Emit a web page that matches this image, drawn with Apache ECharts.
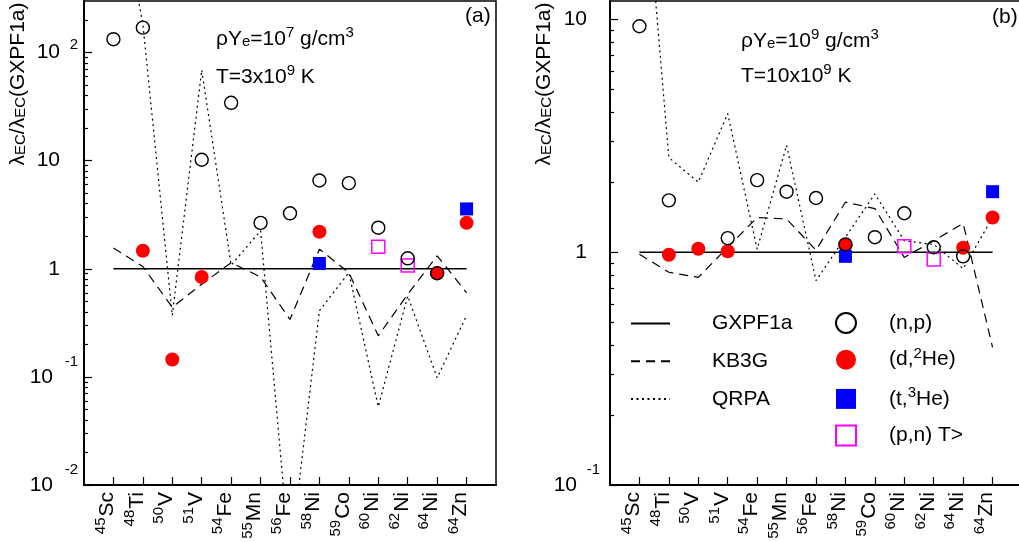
<!DOCTYPE html>
<html><head><meta charset="utf-8">
<script src="https://cdn.jsdelivr.net/npm/echarts@6/dist/echarts.min.js"></script>
<style>html,body{margin:0;padding:0;background:#fff}#c{width:1019px;height:542px}</style>
</head><body><div id="c"></div>
<script>
// ---- data ----
const massNumbers = ['45','48','50','51','54','55','56','58','59','60','62','64','64'];
const elements    = ['Sc','Ti','V','V','Fe','Mn','Fe','Ni','Co','Ni','Ni','Ni','Zn'];
const yTicksA = [0.01, 0.1, 1, 10, 100];
const yTicksB = [0.1, 1, 10];

// panel (a): rho Ye = 1e7, T = 3e9
const gxpf1aA = [1,1,1,1,1,1,1,1,1,1,1,1,1];
const kb3gA   = [1.56, 1.05, 0.44, 0.72, 1.14, 0.84, 0.34, 1.52, 0.92, 0.24, 0.58, 1.32, 0.60];
const qrpaA   = [5000, 184, 0.37, 69, 1.08, 2.25, 0.002, 0.41, 0.92, 0.053, 0.56, 0.098, 0.37];
const npA     = [133, 170, null, 10.2, 34.3, 2.66, 3.26, 6.56, 6.2, 2.40, 1.25, 0.91, null];
const d2HeA   = [null, 1.47, 0.145, 0.84, null, null, null, 2.2, null, null, null, 0.91, 2.66];
const t3HeA   = [null, null, null, null, null, null, null, 1.12, null, null, null, null, 3.58];
const pnA     = [null, null, null, null, null, null, null, null, null, 1.6, 1.07, null, null];

// panel (b): rho Ye = 1e9, T = 10e9
const gxpf1aB = [1,1,1,1,1,1,1,1,1,1,1,1,1];
const kb3gB   = [0.98, 0.82, 0.78, 1.05, 1.41, 1.39, 1.02, 1.64, 1.54, 0.95, 1.12, 1.33, 0.39];
const qrpaB   = [80, 2.55, 2.0, 3.94, 1.03, 2.88, 0.755, 1.16, 1.78, 1.12, 1.08, 0.85, 1.41];
const npB     = [9.35, 1.67, null, 1.15, 2.04, 1.82, 1.71, 1.08, 1.16, 1.47, 1.05, 0.96, null];
const d2HeB   = [null, 0.975, 1.035, 1.01, null, null, null, 1.07, null, null, null, 1.045, 1.41];
const t3HeB   = [null, null, null, null, null, null, null, 0.96, null, null, null, null, 1.82];
const pnB     = [null, null, null, null, null, null, null, null, null, 1.06, 0.93, null, null];

// ---- helpers ----
const FONT = 'Liberation Sans, Arial, sans-serif';
const idx = massNumbers.map((_, i) => i);
const pairs = arr => arr.map((v, i) => v == null ? null : [i, v]).filter(p => p);
const expOf = v => Math.round(Math.log10(v));
function minorTicks(lo, hi) {
  const out = [];
  for (let e = Math.floor(Math.log10(lo)); e <= Math.ceil(Math.log10(hi)); e++) {
    for (let m = 2; m <= 9; m++) {
      const v = m * Math.pow(10, e);
      if (v > lo && v < hi) out.push(v);
    }
  }
  return out;
}

function xAxis(g) {
  return {
    type: 'value', gridIndex: g, min: -1, max: 13,
    splitLine: { show: false },
    axisLine: { onZero: false, lineStyle: { color: '#000', width: 2 } },
    axisTick: { customValues: idx, inside: true, length: 8, lineStyle: { color: '#000', width: 1.2 } },
    axisLabel: {
      customValues: idx, rotate: 90, margin: 7, color: '#000',
      padding: [0, 0, 12, 0],
      formatter: v => { const i = Math.round(v); return '{m|' + massNumbers[i] + '}{e|' + elements[i] + '}'; },
      rich: {
        m: { fontFamily: FONT, fontSize: 15, lineHeight: 2, color: '#000', verticalAlign: 'middle', padding: [0, 1, 14, 0] },
        e: { fontFamily: FONT, fontSize: 21, lineHeight: 16, color: '#000', verticalAlign: 'middle' }
      }
    }
  };
}
const yBase = { type: 'log', logBase: 10, splitLine: { show: false } };
// major ticks + mantissa labels ("1", "10")
function yAxisMajor(g, lo, hi, ticks, margin, negPad) {
  return Object.assign({}, yBase, {
    gridIndex: g, min: lo, max: hi, position: 'left',
    axisLine: { show: true, onZero: false, lineStyle: { color: '#000', width: 2 } },
    axisTick: { customValues: ticks, inside: true, length: 8, lineStyle: { color: '#000', width: 1.2 } },
    axisLabel: {
      customValues: ticks, margin: margin, color: '#000', fontFamily: FONT, fontSize: 21,
      formatter: v => { const e = expOf(v); return e === 0 ? '1' : (e < 0 ? '{c|10}' : '10'); },
      rich: { c: { fontFamily: FONT, fontSize: 21, color: '#000', padding: [0, negPad, 0, 0] } }
    }
  });
}
// exponent labels ("2", "-1", "-2") drawn as superscripts
function yAxisExp(g, lo, hi, ticks, margin) {
  return Object.assign({}, yBase, {
    gridIndex: g, min: lo, max: hi, position: 'left',
    axisLine: { show: false, onZero: false },
    axisTick: { show: false },
    axisLabel: {
      customValues: ticks.filter(v => expOf(v) > 1 || expOf(v) < 0), margin: margin, color: '#000',
      formatter: v => { const e = expOf(v); return e > 1 ? '{p|' + e + '}' : '{q|' + e + '}'; },
      rich: {
        p: { fontFamily: FONT, fontSize: 15, color: '#000', padding: [0, 0, 16, 0] },
        q: { fontFamily: FONT, fontSize: 15, color: '#000', padding: [0, 0, 30, 0] }
      }
    }
  });
}
function yAxisMinor(g, lo, hi) {
  return Object.assign({}, yBase, {
    gridIndex: g, min: lo, max: hi, position: 'left',
    axisLine: { show: false, onZero: false },
    axisLabel: { show: false },
    axisTick: { customValues: minorTicks(lo, hi), inside: true, length: 4, lineStyle: { color: '#000', width: 1.2 } }
  });
}

const DASH = [9, 6], DOT = [2, 3.5];
function panelSeries(g, solid, kb, qr, np, d2, t3, pn) {
  const common = { xAxisIndex: g, yAxisIndex: g * 3, silent: true, emphasis: { disabled: true } };
  const noMark = { color: 'rgba(0,0,0,0)', borderColor: 'rgba(0,0,0,0)', borderWidth: 0 };
  return [
    Object.assign({ type: 'line', name: 'GXPF1a', data: pairs(solid), symbol: 'none', z: 2,
      lineStyle: { color: '#000', width: 1.5, type: 'solid' }, itemStyle: noMark }, common),
    Object.assign({ type: 'line', name: 'KB3G', data: pairs(kb), symbol: 'none', z: 2,
      lineStyle: { color: '#000', width: 1.2, type: DASH }, itemStyle: noMark }, common),
    Object.assign({ type: 'line', name: 'QRPA', data: pairs(qr), symbol: 'none', z: 2,
      lineStyle: { color: '#000', width: 1.2, type: DOT }, itemStyle: noMark }, common),
    Object.assign({ type: 'scatter', name: '(d,2He)', data: pairs(d2), symbol: 'circle', symbolSize: 14, z: 3,
      itemStyle: { color: '#ff0000', opacity: 1 } }, common),
    Object.assign({ type: 'scatter', name: '(t,3He)', data: pairs(t3), symbol: 'rect', symbolSize: 13, z: 3,
      itemStyle: { color: '#0000ff', opacity: 1 } }, common),
    Object.assign({ type: 'scatter', name: '(p,n) T>', data: pairs(pn), symbol: 'rect', symbolSize: 13, z: 4,
      itemStyle: { color: 'rgba(255,255,255,0)', borderColor: '#ff00ff', borderWidth: 1.5, opacity: 1 } }, common),
    Object.assign({ type: 'scatter', name: '(n,p)', data: pairs(np), symbol: 'circle', symbolSize: 13, z: 5,
      itemStyle: { color: 'rgba(255,255,255,0)', borderColor: '#000', borderWidth: 1.4, opacity: 1 } }, common)
  ];
}

const richText = {
  n: { fontFamily: FONT, fontSize: 21, lineHeight: 22, fill: '#000', verticalAlign: 'middle' },
  sup: { fontFamily: FONT, fontSize: 15, lineHeight: 6, fill: '#000', verticalAlign: 'middle', padding: [0, 0, 12, 0] },
  sub: { fontFamily: FONT, fontSize: 15, lineHeight: 6, fill: '#000', verticalAlign: 'middle', padding: [6, 0, 0, 0] }
};
function label(x, y, text, rot) {
  return { type: 'text', x: x, y: y, rotation: rot || 0, silent: true,
    style: { text: text, align: rot ? 'center' : 'left', verticalAlign: 'middle', fill: '#000',
      font: '21px ' + FONT, rich: richText } };
}
const yTitle = '{n|λ}{sub|EC}{n|/λ}{sub|EC}{n|(GXPF1a)}';

const legendRich = {
  t: { fontFamily: FONT, fontSize: 21, lineHeight: 20, color: '#000', verticalAlign: 'middle' },
  s: { fontFamily: FONT, fontSize: 15, lineHeight: 6, color: '#000', verticalAlign: 'middle', padding: [0, 0, 12, 0] }
};
const legendNames = { '(n,p)': '{t|(n,p)}', '(d,2He)': '{t|(d,}{s|2}{t|He)}', '(t,3He)': '{t|(t,}{s|3}{t|He)}', '(p,n) T>': '{t|(p,n) T>}' };

const option = {
  animation: false,
  backgroundColor: '#fff',
  grid: [
    { left: 84, top: 1, width: 412, height: 484, show: true, borderColor: '#000', borderWidth: 1.5, backgroundColor: 'transparent', containLabel: false, outerBoundsMode: 'none' },
    { left: 610, top: 1, width: 412, height: 484, show: true, borderColor: '#000', borderWidth: 1.5, backgroundColor: 'transparent', containLabel: false, outerBoundsMode: 'none' }
  ],
  xAxis: [xAxis(0), xAxis(1)],
  yAxis: [
    yAxisMajor(0, 0.01, 300, yTicksA, 24, 7), yAxisExp(0, 0.01, 300, yTicksA, 6), yAxisMinor(0, 0.01, 300),
    yAxisMajor(1, 0.1, 12, yTicksB, 23, 10), yAxisExp(1, 0.1, 12, yTicksB, 10), yAxisMinor(1, 0.1, 12)
  ],
  legend: [
    { data: ['GXPF1a', 'KB3G', 'QRPA'], orient: 'vertical', left: 630, top: 313, padding: 0,
      itemWidth: 39, itemHeight: 20, itemGap: 16.7, selectedMode: false,
      itemStyle: { color: 'rgba(0,0,0,0)', borderColor: 'rgba(0,0,0,0)', borderWidth: 0, opacity: 0 },
      textStyle: { fontFamily: FONT, fontSize: 21, color: '#000', lineHeight: 20, padding: [0, 0, 0, 37] } },
    { data: ['(n,p)', '(d,2He)', '(t,3He)', '(p,n) T>'], orient: 'vertical', left: 835, top: 312, padding: 0,
      itemWidth: 20, itemHeight: 20, itemGap: 12.2, selectedMode: false,
      formatter: n => legendNames[n],
      textStyle: { fontFamily: FONT, fontSize: 21, color: '#000', lineHeight: 20, padding: [0, 0, 0, 28], rich: legendRich } }
  ],
  graphic: [
    label(216, 39, '{n|ρY}{sub|e}{n|=10}{sup|7}{n| g/cm}{sup|3}'),
    label(216, 77, '{n|T=3x10}{sup|9}{n| K}'),
    label(465, 16, '{n|(a)}'),
    label(741, 41, '{n|ρY}{sub|e}{n|=10}{sup|9}{n| g/cm}{sup|3}'),
    label(741, 76, '{n|T=10x10}{sup|9}{n| K}'),
    label(992, 17, '{n|(b)}'),
    label(18, 84, yTitle, Math.PI / 2),
    label(544, 84, yTitle, Math.PI / 2)
  ],
  series: [].concat(
    panelSeries(0, gxpf1aA, kb3gA, qrpaA, npA, d2HeA, t3HeA, pnA),
    panelSeries(1, gxpf1aB, kb3gB, qrpaB, npB, d2HeB, t3HeB, pnB)
  )
};
const chart = echarts.init(document.getElementById('c'), null, { renderer: 'canvas' });
chart.setOption(option);
</script>
</body></html>
